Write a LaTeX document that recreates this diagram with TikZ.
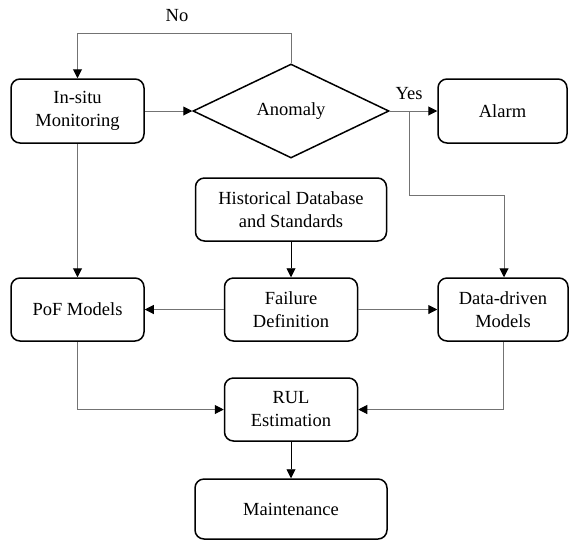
\documentclass[tikz,border=0pt]{standalone}
\usepackage{fontspec}
\setmainfont{Liberation Serif}
\usetikzlibrary{shapes.geometric,arrows.meta}
\begin{document}
\begin{tikzpicture}[x=1pt,y=-1pt,
  box/.style={draw=black,line width=1.5pt,rounded corners=9pt,align=center,inner sep=0pt,
    font=\fontsize{18.5}{23}\selectfont},
  dia/.style={draw=black,line width=1.5pt,shape=diamond,inner sep=0pt,
    font=\fontsize{18.5}{23}\selectfont},
  conn/.style={draw=black!55,line width=1pt,-{Triangle[length=9pt,width=9pt,fill=black,color=black]}},
  connk/.style={draw=black,line width=0.9pt,-{Triangle[length=9pt,width=9pt,fill=black,color=black]}},
  lbl/.style={font=\fontsize{18.5}{23}\selectfont,inner sep=0pt}]
\useasboundingbox (0,0) rectangle (569,539);
\node[box,minimum width=133pt,minimum height=64pt] (ins) at (77.5,111) {In-situ\\Monitoring};
\node[dia,minimum width=196pt,minimum height=94pt] (ano) at (291,111) {Anomaly};
\node[box,minimum width=129pt,minimum height=64pt] (alarm) at (502.5,111) {Alarm};
\node[box,minimum width=191pt,minimum height=63pt] (hist) at (291,209.5) {Historical Database\\and Standards};
\node[box,minimum width=133pt,minimum height=63pt] (pof) at (77.5,309.5) {PoF Models};
\node[box,minimum width=133pt,minimum height=63pt] (fail) at (291,309.5) {Failure\\Definition};
\node[box,minimum width=130pt,minimum height=63pt] (dd) at (503,309.5) {Data-driven\\Models};
\node[box,minimum width=133pt,minimum height=63pt] (rul) at (291,409.5) {RUL\\Estimation};
\node[box,minimum width=192pt,minimum height=60pt] (main) at (291,509) {Maintenance};
\coordinate (br) at (409,111);
\node[lbl] (no) at (177,16) {No};
\node[lbl] (yes) at (409,94) {Yes};
\draw[conn] (ins.east) -- (ano.west);
\draw[conn] (ano.north) -- ++(0,-30) -| (ins.north);
\draw[conn] (ano.east) -- (alarm.west);
\draw[conn] (br) |- (504,195) -- (dd.north -| 504,0);
\draw[conn] (ins.south) -- (pof.north);
\draw[connk] (hist.south) -- (fail.north);
\draw[conn] (fail.west) -- (pof.east);
\draw[conn] (fail.east) -- (dd.west);
\draw[conn] (pof.south) |- (rul.west);
\draw[conn] (dd.south) |- (rul.east);
\draw[connk] (rul.south) -- (main.north);
\end{tikzpicture}
\end{document}
